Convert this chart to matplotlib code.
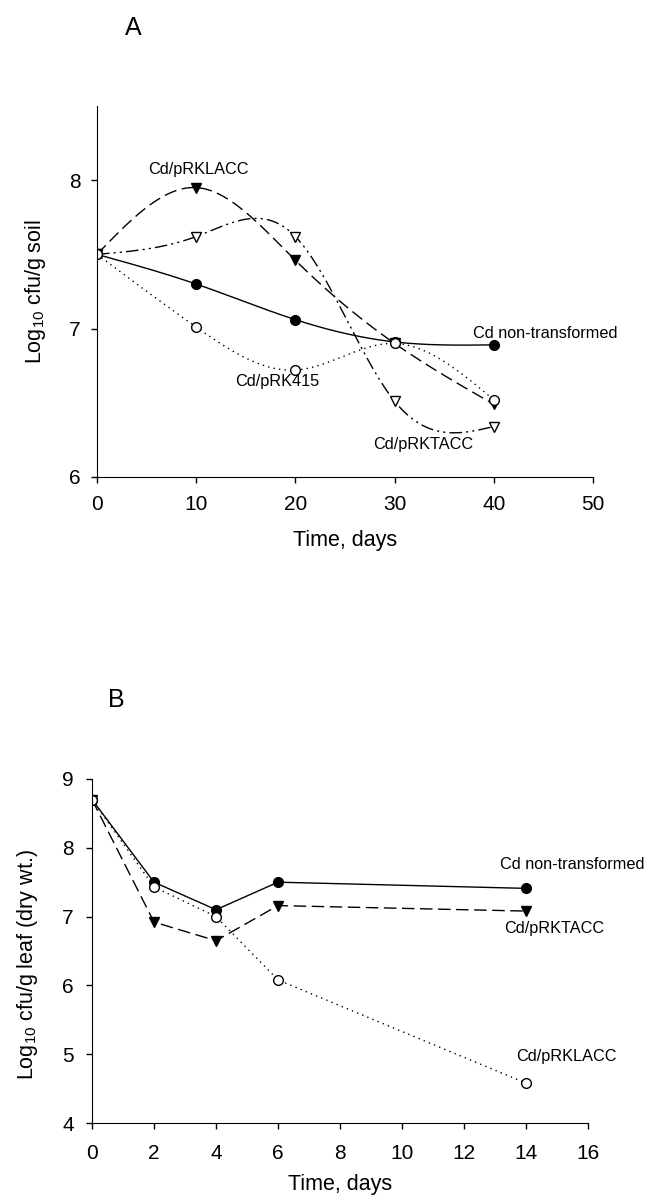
import numpy as np
import matplotlib
matplotlib.use("Agg")
import matplotlib.pyplot as plt

plt.rcParams['font.family'] = ['Liberation Sans', 'DejaVu Sans']
plt.rcParams['mathtext.fontset'] = 'custom'
plt.rcParams['mathtext.rm'] = 'Liberation Sans'
plt.rcParams['mathtext.it'] = 'Liberation Sans'

# ---------- Panel A data (soil) ----------
days_a = [0, 10, 20, 30, 40]
a_nontrans = [7.50, 7.30, 7.06, 6.91, 6.89]
a_lacc = [7.50, 7.95, 7.46, 6.90, 6.49]
a_tacc = [7.50, 7.62, 7.62, 6.51, 6.34]
a_415 = [7.50, 7.01, 6.72, 6.90, 6.52]

# ---------- Panel B data (leaf) ----------
days_b = [0, 2, 4, 6, 14]
b_nontrans = [8.70, 7.50, 7.10, 7.50, 7.41]
b_tacc = [8.70, 6.92, 6.65, 7.16, 7.08]
b_lacc = [8.70, 7.43, 7.00, 6.08, 4.58]


def natural_spline(x, y, n=300):
    x = np.asarray(x, float)
    y = np.asarray(y, float)
    m = len(x)
    h = np.diff(x)
    A = np.zeros((m, m))
    r = np.zeros(m)
    A[0, 0] = 1
    A[-1, -1] = 1
    for i in range(1, m - 1):
        A[i, i - 1] = h[i - 1]
        A[i, i] = 2 * (h[i - 1] + h[i])
        A[i, i + 1] = h[i]
        r[i] = 6 * ((y[i + 1] - y[i]) / h[i] - (y[i] - y[i - 1]) / h[i - 1])
    M = np.linalg.solve(A, r)
    xs = np.linspace(x[0], x[-1], n)
    ys = np.empty_like(xs)
    for k, xv in enumerate(xs):
        i = min(np.searchsorted(x, xv, side='right') - 1, m - 2)
        t1 = x[i + 1] - xv
        t0 = xv - x[i]
        ys[k] = (M[i] * t1 ** 3 / (6 * h[i]) + M[i + 1] * t0 ** 3 / (6 * h[i])
                 + (y[i] / h[i] - M[i] * h[i] / 6) * t1
                 + (y[i + 1] / h[i] - M[i + 1] * h[i] / 6) * t0)
    return xs, ys


fig = plt.figure(figsize=(6.48, 11.96), dpi=100)

dash = (0, (9, 4))
dashdotdot = (0, (9, 3, 1.5, 3, 1.5, 3))
dot = (0, (1, 3))
lw = 1.0

# ---------- Panel A ----------
axA = fig.add_axes([0.1497, 0.6012, 0.7654, 0.3102])
series_a = [
    (a_nontrans, '-', 'o', 'black'),
    (a_lacc, dash, 'v', 'black'),
    (a_tacc, dashdotdot, 'v', 'white'),
    (a_415, dot, 'o', 'white'),
]
for vals, ls, mk, fc in series_a:
    xs, ys = natural_spline(days_a, vals)
    axA.plot(xs, ys, color='black', linestyle=ls, linewidth=lw)
    axA.plot(days_a, vals, linestyle='none', marker=mk, markersize=7,
             markerfacecolor=fc, markeredgecolor='black', markeredgewidth=1.0)

axA.set_xlim(0, 50)
axA.set_ylim(6, 8.5)
axA.set_xticks([0, 10, 20, 30, 40, 50])
axA.set_yticks([6, 7, 8])
axA.tick_params(direction='out', length=4, width=1, labelsize=15)
axA.tick_params(axis='x', pad=9)
axA.tick_params(axis='y', pad=8)
for s in ['top', 'right']:
    axA.spines[s].set_visible(False)
axA.set_xlabel('Time, days', fontsize=15.5)
axA.set_ylabel(r'Log$_{\mathrm{10}}$ cfu/g soil', fontsize=15.5)
axA.xaxis.set_label_coords(0.5, -0.143)
axA.yaxis.set_label_coords(-0.099, 0.5)

txt = 11.7
axA.text(10.2, 8.07, 'Cd/pRKLACC', ha='center', va='center', fontsize=txt)
axA.text(18.2, 6.64, 'Cd/pRK415', ha='center', va='center', fontsize=txt)
axA.text(45.2, 6.97, 'Cd non-transformed', ha='center', va='center', fontsize=txt)
axA.text(32.9, 6.22, 'Cd/pRKTACC', ha='center', va='center', fontsize=txt)

fig.text(0.205, 0.977, 'A', fontsize=18, ha='center', va='center')

# ---------- Panel B ----------
axB = fig.add_axes([0.142, 0.061, 0.7654, 0.2877])
series_b = [
    (b_nontrans, '-', 'o', 'black'),
    (b_tacc, dash, 'v', 'black'),
    (b_lacc, dot, 'o', 'white'),
]
for vals, ls, mk, fc in series_b:
    axB.plot(days_b, vals, color='black', linestyle=ls, linewidth=lw,
             marker=mk, markersize=7, markerfacecolor=fc,
             markeredgecolor='black', markeredgewidth=1.0)

axB.set_xlim(0, 16)
axB.set_ylim(4, 9)
axB.set_xticks(list(range(0, 17, 2)))
axB.set_yticks([4, 5, 6, 7, 8, 9])
axB.tick_params(direction='out', length=4, width=1, labelsize=15)
axB.tick_params(axis='x', pad=11)
axB.tick_params(axis='y', pad=9)
for s in ['top', 'right']:
    axB.spines[s].set_visible(False)
axB.set_xlabel('Time, days', fontsize=15.5)
axB.set_ylabel(r'Log$_{\mathrm{10}}$ cfu/g leaf (dry wt.)', fontsize=15.5)
axB.xaxis.set_label_coords(0.5, -0.148)
axB.yaxis.set_label_coords(-0.105, 0.46)

axB.text(15.5, 7.75, 'Cd non-transformed', ha='center', va='center', fontsize=txt)
axB.text(14.9, 6.82, 'Cd/pRKTACC', ha='center', va='center', fontsize=txt)
axB.text(15.3, 4.96, 'Cd/pRKLACC', ha='center', va='center', fontsize=txt)

fig.text(0.18, 0.415, 'B', fontsize=18, ha='center', va='center')

fig.savefig('out.png', dpi=100)
